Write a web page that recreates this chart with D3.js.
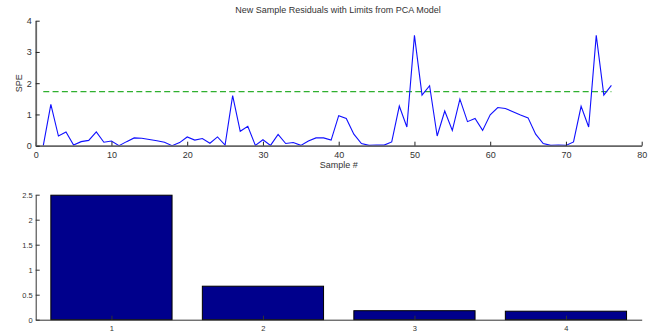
<!DOCTYPE html>
<html lang="en">
<head>
  <meta charset="UTF-8" />
  <title>New Sample Residuals with Limits from PCA Model</title>
  <script src="https://d3js.org/d3.v7.min.js"></script>
  <style>
    body {
      margin: 0;
      background: #fff;
      font-family: "Liberation Sans", Arial, sans-serif;
    }
    text { fill: #333; }
  </style>
</head>
<body>
  <script>
    // Residuals (SPE) for each new sample
    const sampleIds = d3.range(1, 77);
    const speValues = [
      0, 1.32, 0.31, 0.44, 0.02, 0.13, 0.17, 0.44, 0.11, 0.15,
      0, 0.13, 0.25, 0.24, 0.2, 0.16, 0.11, 0, 0.1, 0.28,
      0.18, 0.23, 0.08, 0.28, 0.02, 1.6, 0.46, 0.62, 0.01, 0.19,
      0.01, 0.36, 0.07, 0.1, 0.01, 0.15, 0.25, 0.25, 0.18, 0.96,
      0.87, 0.37, 0.07, 0.01, 0.02, 0.02, 0.12, 1.27, 0.6, 3.53,
      1.62, 1.92, 0.31, 1.11, 0.49, 1.49, 0.77, 0.87, 0.49, 0.99,
      1.22, 1.19, 1.09, 0.98, 0.89, 0.37, 0.07, 0.01, 0.02, 0.01,
      0.12, 1.26, 0.6, 3.53, 1.62, 1.93
    ];
    const speLimit = 1.73;
    const xTicksTop = [0, 10, 20, 30, 40, 50, 60, 70, 80];
    const yTicksTop = [0, 1, 2, 3, 4];

    // Bottom bar chart
    const barCats = [1, 2, 3, 4];
    const barValues = [2.49, 0.67, 0.18, 0.17];
    const yTicksBottom = [0, 0.5, 1, 1.5, 2, 2.5];

    const width = 658, height = 336;
    const svg = d3.select("body").append("svg")
      .attr("width", width)
      .attr("height", height);

    const fmt = d3.format("");

    // ---- top: SPE line plot ----
    const x = d3.scaleLinear().domain([0, 80]).range([35.7, 641.7]);
    const y = d3.scaleLinear().domain([0, 4]).range([145.7, 20.7]);

    const gTop = svg.append("g");

    // control limit, dashed green
    gTop.append("line")
      .attr("x1", x(1)).attr("x2", x(76))
      .attr("y1", y(speLimit)).attr("y2", y(speLimit))
      .attr("stroke", "#2fb02f")
      .attr("stroke-width", 1.4)
      .attr("stroke-dasharray", "6,3.3");

    gTop.append("path")
      .datum(sampleIds.map((d, i) => [d, speValues[i]]))
      .attr("fill", "none")
      .attr("stroke", "#1010ff")
      .attr("stroke-width", 1.1)
      .attr("d", d3.line().x(d => x(d[0])).y(d => y(d[1])));

    const xAxisTop = gTop.append("g")
      .attr("transform", `translate(0,${y(0)})`)
      .call(d3.axisBottom(x).tickValues(xTicksTop).tickFormat(fmt).tickSizeInner(-4).tickSizeOuter(0).tickPadding(6));
    const yAxisTop = gTop.append("g")
      .attr("transform", `translate(${x(0)},0)`)
      .call(d3.axisLeft(y).tickValues(yTicksTop).tickFormat(fmt).tickSizeInner(-4).tickSizeOuter(0).tickPadding(4));
    [xAxisTop, yAxisTop].forEach(a => {
      a.select(".domain").attr("stroke", "#666").attr("stroke-width", 1.8);
      a.selectAll(".tick line").attr("stroke", "#222").attr("stroke-width", 1);
      a.selectAll(".tick text").style("font-size", "9px").attr("fill", "#333");
    });

    gTop.append("text")
      .attr("x", 338).attr("y", 13)
      .attr("text-anchor", "middle")
      .style("font-size", "9px")
      .text("New Sample Residuals with Limits from PCA Model");
    gTop.append("text")
      .attr("x", x(40)).attr("y", 168)
      .attr("text-anchor", "middle")
      .style("font-size", "9px")
      .text("Sample #");
    gTop.append("text")
      .attr("transform", `translate(22,${y(2)}) rotate(-90)`)
      .attr("text-anchor", "middle")
      .style("font-size", "9px")
      .text("SPE");

    // ---- bottom: bar chart ----
    const xb = d3.scaleLinear().domain([0.5, 4.5]).range([35.7, 641.7]);
    const yb = d3.scaleLinear().domain([0, 2.5]).range([319.7, 194.7]);
    const barW = 0.8;

    const gBot = svg.append("g");

    gBot.selectAll("rect.bar")
      .data(barCats.map((c, i) => ({ c, v: barValues[i] })))
      .enter()
      .append("rect")
      .attr("class", "bar")
      .attr("x", d => xb(d.c - barW / 2))
      .attr("width", d => xb(d.c + barW / 2) - xb(d.c - barW / 2))
      .attr("y", d => yb(d.v))
      .attr("height", d => yb(0) - yb(d.v))
      .attr("fill", "#00008c")
      .attr("stroke", "#000")
      .attr("stroke-width", 1);

    const xAxisBot = gBot.append("g")
      .attr("transform", `translate(0,${yb(0)})`)
      .call(d3.axisBottom(xb).tickValues(barCats).tickFormat(fmt).tickSizeInner(-4).tickSizeOuter(0).tickPadding(6));
    const yAxisBot = gBot.append("g")
      .attr("transform", `translate(${xb(0.5)},0)`)
      .call(d3.axisLeft(yb).tickValues(yTicksBottom).tickFormat(fmt).tickSizeInner(-4).tickSizeOuter(0).tickPadding(3));
    [xAxisBot, yAxisBot].forEach(a => {
      a.select(".domain").attr("stroke", "#333").attr("stroke-width", 1);
      a.selectAll(".tick line").attr("stroke", "#333").attr("stroke-width", 1);
      a.selectAll(".tick text").style("font-size", "7.5px").attr("fill", "#333");
    });
  </script>
</body>
</html>
